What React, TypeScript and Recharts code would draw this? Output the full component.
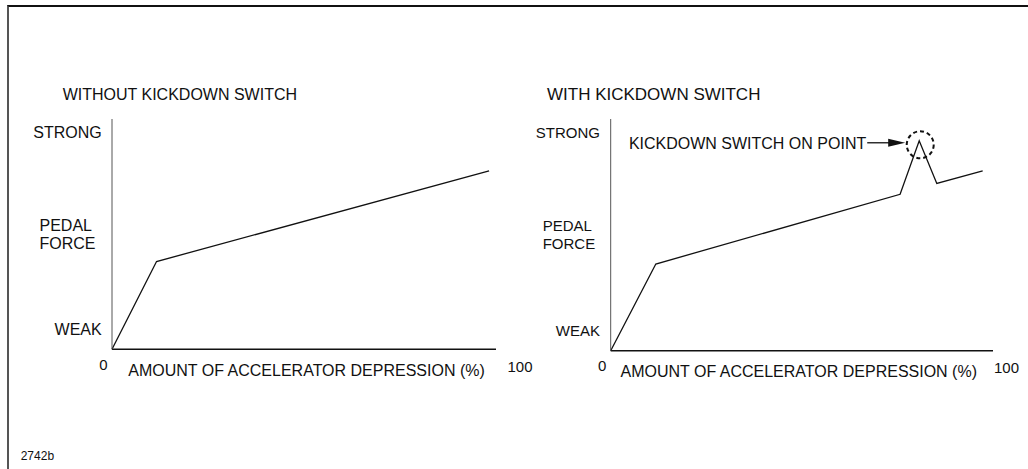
import { LineChart, Line, XAxis, YAxis, ReferenceDot } from 'recharts';

// accelerator depression (%) vs pedal force (0 = weak, 100 = strong)
const withoutDepression = [0, 11.6, 98.2];
const withoutForce = [0, 38.1, 77.5];

const withDepression = [0, 11.8, 75.7, 80.7, 85.3, 97.3];
const withForce = [0, 37.4, 67.5, 90.6, 72.2, 77.6];

const kickdownPoint = { depression: 80.7, force: 90.6 };

const forceTicks = [8.7, 50, 94];
const forceLabels = ['WEAK', 'PEDAL FORCE', 'STRONG'];
const depressionTicks = [0, 100];
const depressionLabels = ['0', '100'];

const FONT = '"Liberation Sans", Arial, Helvetica, sans-serif';

const toRows = (xs: number[], ys: number[]) =>
  xs.map((d, i) => ({ depression: d, force: ys[i] }));

type PanelCfg = {
  left: number;
  width: number;
  yAxisWidth: number;
  top: number;
  plotBottom: number;
  rightMargin: number;
  tickFont: number;
  strongEnd: number;
  pedalStart: number;
  zeroOff: number;
  hundredOff: number;
};

const YTick = (props: any, cfg: PanelCfg) => {
  const { x, y, payload } = props;
  const idx = forceTicks.indexOf(payload.value);
  const label = forceLabels[idx];
  if (label === 'PEDAL FORCE') {
    return (
      <g>
        <text x={x + cfg.pedalStart} y={y - 3.5} fontSize={cfg.tickFont} fontFamily={FONT} fill="#111">PEDAL</text>
        <text x={x + cfg.pedalStart} y={y + 14.5} fontSize={cfg.tickFont} fontFamily={FONT} fill="#111">FORCE</text>
      </g>
    );
  }
  return (
    <text x={x + cfg.strongEnd} y={y + 5.4} textAnchor="end" fontSize={cfg.tickFont} fontFamily={FONT} fill="#111">
      {label}
    </text>
  );
};

const XTick = (props: any, cfg: PanelCfg) => {
  const { x, y, payload } = props;
  const idx = depressionTicks.indexOf(payload.value);
  const off = idx === 0 ? cfg.zeroOff : cfg.hundredOff;
  return (
    <text x={x + off} y={y + (idx === 0 ? 20.7 : 22.4)} textAnchor="middle" fontSize={15} fontFamily={FONT} fill="#111">
      {depressionLabels[idx]}
    </text>
  );
};

const KickdownMark = (props: any) => {
  const { cx, cy } = props;
  return (
    <g>
      <circle cx={cx + 1} cy={cy + 4} r={13.5} fill="none" stroke="#111" strokeWidth={2} strokeDasharray="4 3" />
      <line x1={cx - 52} y1={cy + 2} x2={cx - 28} y2={cy + 2} stroke="#111" strokeWidth={1.3} />
      <polygon points={`${cx - 14},${cy + 2} ${cx - 31},${cy - 2} ${cx - 31},${cy + 6}`} fill="#111" />
      <text x={cx - 53} y={cy + 8.6} textAnchor="end" fontSize={16} fontFamily={FONT} fill="#111">
        KICKDOWN SWITCH ON POINT
      </text>
    </g>
  );
};

const Panel = ({ cfg, rows, children }: { cfg: PanelCfg; rows: any[]; children?: any }) => {
  const xAxisHeight = 40;
  const H = 469;
  return (
    <div style={{ position: 'absolute', left: cfg.left, top: 0 }}>
      <LineChart
        width={cfg.width}
        height={H}
        data={rows}
        margin={{ top: cfg.top, right: cfg.rightMargin, left: 0, bottom: H - cfg.plotBottom - xAxisHeight }}
      >
        <XAxis
          dataKey="depression"
          type="number"
          domain={[0, 100]}
          ticks={depressionTicks}
          height={xAxisHeight}
          tickLine={false}
          tickSize={0}
          tickMargin={0}
          axisLine={{ stroke: '#111', strokeWidth: 1.5 }}
          tick={(p: any) => XTick(p, cfg)}
        />
        <YAxis
          type="number"
          domain={[0, 100]}
          ticks={forceTicks}
          width={cfg.yAxisWidth}
          tickLine={false}
          tickSize={0}
          tickMargin={0}
          axisLine={{ stroke: '#555', strokeWidth: 1 }}
          tick={(p: any) => YTick(p, cfg)}
        />
        <Line
          type="linear"
          dataKey="force"
          stroke="#111"
          strokeWidth={1.3}
          dot={false}
          isAnimationActive={false}
        />
        {children}
      </LineChart>
    </div>
  );
};

const leftCfg: PanelCfg = {
  left: 0, width: 560, yAxisWidth: 112, top: 119, plotBottom: 349.3, rightMargin: 64,
  tickFont: 16, strongEnd: -10.3, pedalStart: -72.5, zeroOff: -8.5, hundredOff: 24,
};

const rightCfg: PanelCfg = {
  left: 520, width: 508, yAxisWidth: 90.7, top: 119, plotBottom: 350.7, rightMargin: 35,
  tickFont: 15, strongEnd: -10.7, pedalStart: -68, zeroOff: -8.5, hundredOff: 13.5,
};

export default function App() {
  return (
    <div style={{ position: 'absolute', left: 0, top: 0, width: 1028, height: 469, background: '#fff', overflow: 'hidden' }}>
      <div
        style={{
          position: 'absolute', left: 7, top: 5, width: 1030, height: 470,
          borderTop: '2px solid #111', borderLeft: '2px solid #555',
        }}
      />
      <svg width={1028} height={469} style={{ position: 'absolute', left: 0, top: 0 }}>
        <text x={62.7} y={100} fontSize={16} fontFamily={FONT} fill="#111">WITHOUT KICKDOWN SWITCH</text>
        <text x={547} y={100} fontSize={17} fontFamily={FONT} fill="#111">WITH KICKDOWN SWITCH</text>
        <text x={128.3} y={375.7} fontSize={16} fontFamily={FONT} fill="#111">AMOUNT OF ACCELERATOR DEPRESSION (%)</text>
        <text x={977} y={376.7} textAnchor="end" fontSize={16} fontFamily={FONT} fill="#111">AMOUNT OF ACCELERATOR DEPRESSION (%)</text>
        <text x={20.7} y={460} fontSize={12} fontFamily={FONT} fill="#111">2742b</text>
      </svg>
      <Panel cfg={leftCfg} rows={toRows(withoutDepression, withoutForce)} />
      <Panel cfg={rightCfg} rows={toRows(withDepression, withForce)}>
        <ReferenceDot
          x={kickdownPoint.depression}
          y={kickdownPoint.force}
          r={13}
          isFront
          shape={(p: any) => <KickdownMark {...p} />}
        />
      </Panel>
    </div>
  );
}
